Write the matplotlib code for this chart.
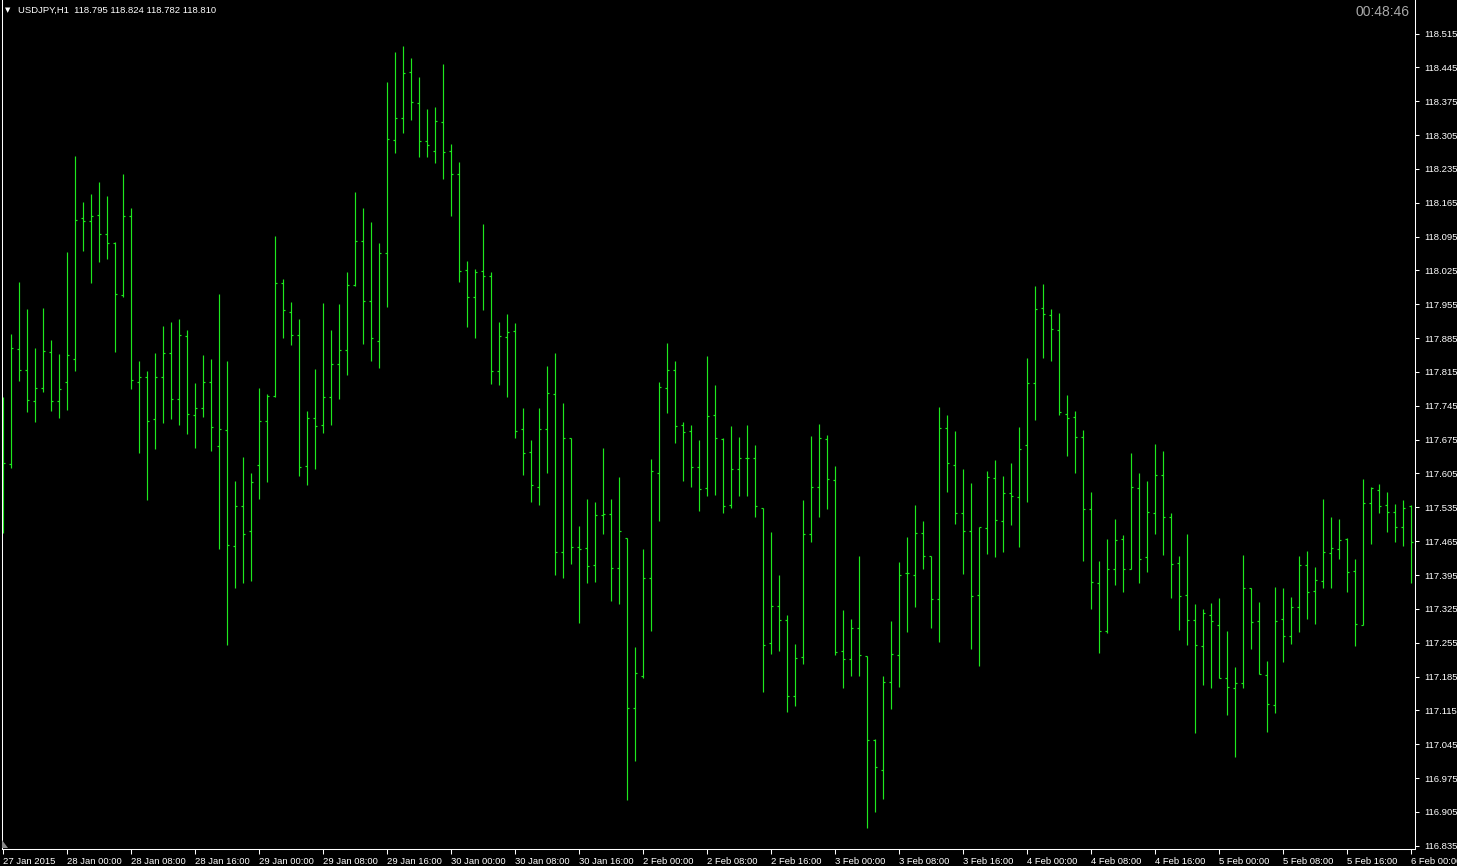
import matplotlib
matplotlib.use("Agg")
import matplotlib.pyplot as plt
from matplotlib.patches import Polygon

# ---- data: USDJPY H1 bars (27 Jan 2015 16:00 -> 6 Feb 2015 00:00) ----
opens = [
    117.612, 117.624, 117.862, 117.820, 117.755, 117.781, 117.856, 117.755, 117.794, 117.841,
    118.133, 118.127, 118.139, 118.100, 118.081, 117.974, 118.137, 117.794, 117.804, 117.717,
    117.804, 117.854, 117.759, 117.889, 117.725, 117.740, 117.794, 117.661, 117.695, 117.456,
    117.537, 117.487, 117.622, 117.714, 117.766, 118.000, 117.938, 117.891, 117.620, 117.719,
    117.705, 117.763, 117.831, 117.860, 117.994, 118.085, 117.961, 117.880, 118.062, 118.295,
    118.340, 118.435, 118.371, 118.292, 118.271, 118.331, 118.271, 118.224, 118.025, 117.969,
    118.023, 118.013, 117.816, 117.887, 117.899, 117.696, 117.649, 117.578, 117.698, 117.769,
    117.442, 117.678, 117.452, 117.450, 117.415, 117.519, 117.521, 117.409, 117.471, 117.119,
    117.186, 117.388, 117.607, 117.781, 117.818, 117.705, 117.692, 117.618, 117.575, 117.725,
    117.676, 117.539, 117.614, 117.638, 117.638, 117.533, 117.254, 117.330, 117.301, 117.144,
    117.225, 117.479, 117.576, 117.676, 117.591, 117.237, 117.221, 117.285, 117.227, 117.053,
    116.991, 117.173, 117.229, 117.399, 117.396, 117.481, 117.434, 117.346, 117.699, 117.622,
    117.524, 117.487, 117.353, 117.492, 117.595, 117.506, 117.564, 117.556, 117.663, 117.793,
    117.947, 117.932, 117.902, 117.729, 117.721, 117.680, 117.531, 117.378, 117.280, 117.407,
    117.469, 117.408, 117.574, 117.432, 117.523, 117.601, 117.514, 117.419, 117.353, 117.301,
    117.248, 117.312, 117.291, 117.181, 117.161, 117.172, 117.368, 117.299, 117.188, 117.126,
    117.303, 117.268, 117.328, 117.415, 117.361, 117.382, 117.440, 117.448, 117.469, 117.403,
    117.291, 117.543, 117.570, 117.540, 117.525, 117.494, 117.538,
]
highs = [
    117.764, 117.894, 118.001, 117.945, 117.865, 117.947, 117.881, 117.852, 118.063, 118.262,
    118.167, 118.183, 118.208, 118.179, 118.083, 118.224, 118.154, 117.838, 117.817, 117.854,
    117.909, 117.918, 117.925, 117.902, 117.792, 117.850, 117.842, 117.976, 117.838, 117.589,
    117.639, 117.606, 117.782, 117.769, 118.096, 118.007, 117.960, 117.925, 117.734, 117.821,
    117.958, 117.902, 117.956, 118.022, 118.188, 118.154, 118.125, 118.082, 118.415, 118.477,
    118.489, 118.464, 118.425, 118.359, 118.363, 118.452, 118.286, 118.249, 118.045, 118.027,
    118.122, 118.021, 117.918, 117.935, 117.916, 117.740, 117.674, 117.740, 117.827, 117.854,
    117.750, 117.678, 117.496, 117.552, 117.547, 117.658, 117.552, 117.598, 117.471, 117.246,
    117.448, 117.634, 117.794, 117.874, 117.837, 117.711, 117.705, 117.674, 117.848, 117.788,
    117.678, 117.703, 117.680, 117.705, 117.663, 117.533, 117.483, 117.396, 117.312, 117.252,
    117.550, 117.682, 117.707, 117.684, 117.620, 117.322, 117.305, 117.434, 117.227, 117.055,
    117.187, 117.300, 117.422, 117.473, 117.540, 117.506, 117.434, 117.742, 117.726, 117.693,
    117.614, 117.586, 117.495, 117.610, 117.632, 117.600, 117.626, 117.701, 117.843, 117.993,
    117.997, 117.945, 117.937, 117.767, 117.734, 117.694, 117.566, 117.423, 117.469, 117.510,
    117.477, 117.647, 117.606, 117.589, 117.667, 117.651, 117.523, 117.434, 117.479, 117.335,
    117.324, 117.337, 117.347, 117.280, 117.204, 117.436, 117.368, 117.339, 117.217, 117.370,
    117.368, 117.350, 117.434, 117.445, 117.412, 117.552, 117.515, 117.511, 117.471, 117.428,
    117.594, 117.577, 117.583, 117.567, 117.542, 117.550, 117.540,
]
lows = [
    117.481, 117.616, 117.797, 117.733, 117.712, 117.774, 117.734, 117.720, 117.737, 117.816,
    118.065, 118.000, 118.043, 118.049, 117.857, 117.971, 117.780, 117.647, 117.551, 117.655,
    117.709, 117.718, 117.705, 117.687, 117.658, 117.722, 117.652, 117.449, 117.251, 117.369,
    117.378, 117.383, 117.553, 117.588, 117.764, 117.886, 117.871, 117.600, 117.582, 117.615,
    117.689, 117.706, 117.760, 117.809, 117.993, 117.873, 117.838, 117.824, 117.950, 118.268,
    118.310, 118.337, 118.260, 118.260, 118.248, 118.215, 118.138, 118.002, 117.907, 117.886,
    117.944, 117.791, 117.789, 117.764, 117.679, 117.602, 117.547, 117.540, 117.607, 117.394,
    117.389, 117.418, 117.296, 117.379, 117.381, 117.479, 117.342, 117.336, 116.929, 117.010,
    117.183, 117.280, 117.507, 117.731, 117.669, 117.590, 117.576, 117.528, 117.559, 117.561,
    117.524, 117.534, 117.559, 117.559, 117.516, 117.152, 117.232, 117.238, 117.112, 117.125,
    117.210, 117.464, 117.514, 117.532, 117.230, 117.162, 117.187, 117.187, 116.872, 116.905,
    116.931, 117.117, 117.163, 117.278, 117.329, 117.407, 117.285, 117.257, 117.566, 117.501,
    117.398, 117.241, 117.207, 117.439, 117.433, 117.442, 117.499, 117.453, 117.545, 117.715,
    117.843, 117.838, 117.725, 117.642, 117.607, 117.425, 117.325, 117.234, 117.276, 117.374,
    117.360, 117.407, 117.379, 117.402, 117.480, 117.437, 117.348, 117.282, 117.251, 117.069,
    117.168, 117.162, 117.181, 117.106, 117.019, 117.162, 117.241, 117.190, 117.071, 117.110,
    117.216, 117.252, 117.278, 117.305, 117.293, 117.368, 117.368, 117.428, 117.359, 117.248,
    117.291, 117.459, 117.523, 117.483, 117.463, 117.456, 117.378,
]
closes = [
    117.626, 117.864, 117.820, 117.757, 117.781, 117.858, 117.755, 117.779, 117.851, 118.129,
    118.127, 118.137, 118.100, 118.081, 117.976, 118.137, 117.798, 117.804, 117.714, 117.804,
    117.854, 117.759, 117.891, 117.727, 117.740, 117.794, 117.701, 117.697, 117.458, 117.537,
    117.479, 117.587, 117.714, 117.765, 117.998, 117.943, 117.891, 117.618, 117.719, 117.703,
    117.763, 117.831, 117.860, 117.994, 118.085, 117.961, 117.885, 118.062, 118.297, 118.340,
    118.433, 118.373, 118.292, 118.284, 118.333, 118.269, 118.224, 118.023, 117.969, 118.021,
    118.013, 117.816, 117.889, 117.897, 117.693, 117.648, 117.581, 117.698, 117.771, 117.442,
    117.678, 117.452, 117.448, 117.413, 117.519, 117.521, 117.409, 117.487, 117.119, 117.192,
    117.388, 117.610, 117.783, 117.820, 117.703, 117.690, 117.618, 117.572, 117.723, 117.678,
    117.537, 117.614, 117.638, 117.638, 117.537, 117.251, 117.330, 117.301, 117.144, 117.223,
    117.479, 117.578, 117.678, 117.593, 117.235, 117.221, 117.285, 117.229, 117.053, 116.998,
    117.173, 117.231, 117.396, 117.399, 117.481, 117.434, 117.346, 117.699, 117.626, 117.524,
    117.487, 117.351, 117.495, 117.598, 117.508, 117.564, 117.558, 117.655, 117.793, 117.945,
    117.934, 117.903, 117.732, 117.719, 117.680, 117.532, 117.380, 117.279, 117.408, 117.467,
    117.408, 117.576, 117.428, 117.525, 117.601, 117.514, 117.417, 117.351, 117.301, 117.251,
    117.316, 117.299, 117.181, 117.163, 117.172, 117.368, 117.297, 117.190, 117.128, 117.299,
    117.268, 117.328, 117.415, 117.359, 117.384, 117.442, 117.450, 117.467, 117.401, 117.293,
    117.543, 117.574, 117.538, 117.525, 117.494, 117.533, 117.463,
]

time_labels = [
    "27 Jan 2015", "28 Jan 00:00", "28 Jan 08:00", "28 Jan 16:00", "29 Jan 00:00",
    "29 Jan 08:00", "29 Jan 16:00", "30 Jan 00:00", "30 Jan 08:00", "30 Jan 16:00",
    "2 Feb 00:00", "2 Feb 08:00", "2 Feb 16:00", "3 Feb 00:00", "3 Feb 08:00",
    "3 Feb 16:00", "4 Feb 00:00", "4 Feb 08:00", "4 Feb 16:00", "5 Feb 00:00",
    "5 Feb 08:00", "5 Feb 16:00", "6 Feb 00:00",
]
price_ticks = [118.515, 118.445, 118.375, 118.305, 118.235, 118.165, 118.095, 118.025,
               117.955, 117.885, 117.815, 117.745, 117.675, 117.605, 117.535, 117.465,
               117.395, 117.325, 117.255, 117.185, 117.115, 117.045, 116.975, 116.905,
               116.835]
header_text = "USDJPY,H1  118.795 118.824 118.782 118.810"
clock_text = "00:48:46"

n = len(opens)
assert n == len(highs) == len(lows) == len(closes)
idx = list(range(n))

W, H = 1457, 866
BAR = "#1ee81e"
FONT = ["Liberation Sans", "DejaVu Sans"]
plt.rcParams["font.family"] = FONT

fig = plt.figure(figsize=(W / 100, H / 100), dpi=100, facecolor="black")
ax = fig.add_axes([2 / W, (H - 849) / H, 1413 / W, 849 / H])
ax.set_facecolor("black")
ax.set_xlim(-0.125, 176.5)
ax.set_ylim(116.8283, 118.5843)

lw = 0.85
kw = dict(colors=BAR, linewidth=lw, antialiased=True, snap=True)
ax.vlines(idx, lows, highs, **kw)
ax.hlines(opens, [i - 0.3 for i in idx], idx, **kw)
ax.hlines(closes, idx, [i + 0.3 for i in idx], **kw)

for side in ("left", "right", "bottom"):
    ax.spines[side].set_color("white")
    ax.spines[side].set_linewidth(0.75)
ax.spines["top"].set_visible(False)

ax.yaxis.tick_right()
ax.set_yticks(price_ticks)
ax.set_yticklabels([f"{v:.3f}" for v in price_ticks])
ax.tick_params(axis="y", colors="white", length=3, width=0.75, pad=4,
               labelsize=6.8, direction="out")

ax.set_xticks(list(range(0, n, 8)))
ax.set_xticklabels(time_labels, ha="left")
ax.tick_params(axis="x", colors="white", length=3.5, width=0.75, pad=2,
               labelsize=6.8, direction="out")
for lbl in ax.get_xticklabels():
    lbl.set_horizontalalignment("left")

# header
fig.text(5 / W, 1 - 10 / H, "\u25bc", color="white", fontsize=5,
         family=["DejaVu Sans"], va="center", ha="left")
fig.text(18 / W, 1 - 10 / H, header_text, color="white", fontsize=6.8,
         va="center", ha="left")
fig.text(1410 / W, 1 - 12.5 / H, clock_text, color="#a8a8a8", fontsize=10,
         va="center", ha="right")

# small scroll marker at bottom-left
tri = Polygon([(2 / W, 1 - 840 / H), (2 / W, 1 - 848 / H), (8 / W, 1 - 848 / H)],
              closed=True, transform=fig.transFigure, facecolor="#8a8a8a",
              edgecolor="none")
fig.patches.append(tri)

fig.savefig("out.png", dpi=100, facecolor="black")
